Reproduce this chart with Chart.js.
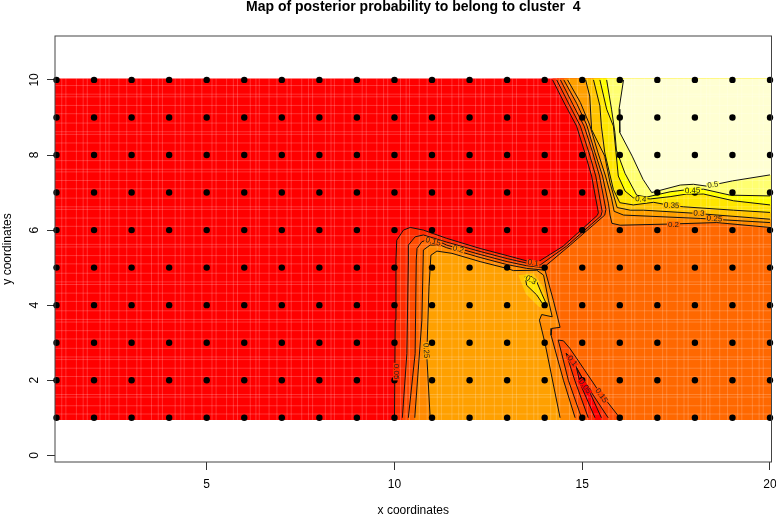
<!DOCTYPE html>
<html>
<head>
<meta charset="utf-8">
<title>Map of posterior probability</title>
<script src="https://cdn.jsdelivr.net/npm/chart.js@4/dist/chart.umd.min.js"></script>
<style>
  html, body { margin: 0; padding: 0; background: #fff; }
  canvas { display: block; }
</style>
</head>
<body>
<canvas id="map" width="776" height="518"></canvas>
<script>
// sampling sites
const siteX = [1, 2, 3, 4, 5, 6, 7, 8, 9, 10, 11, 12, 13, 14, 15, 16, 17, 18, 19, 20];
const siteY = [1, 2, 3, 4, 5, 6, 7, 8, 9, 10];
const xTicks = [5, 10, 15, 20];
const yTicks = [0, 2, 4, 6, 8, 10];

// contours, [x, y] in data units
// these three run from the bottom edge, round the middle block, up to the top edge
const level05 = [[10, 1], [10.02, 3.6], [10.04, 5.2], [10.06, 5.73], [10.24, 6], [10.42, 6.07], [10.77, 6], [11.39, 5.78], [12.28, 5.51], [13, 5.32], [13.52, 5.18], [13.79, 5.13], [14.49, 5.57], [15.4, 6.39], [15.43, 6.46], [15.25, 7.44], [15.07, 8.06], [14.85, 8.77], [14.54, 9.35], [14.21, 10]];
const level10 = [[10.21, 1], [10.33, 2.71], [10.37, 5.2], [10.37, 5.6], [10.55, 5.82], [10.77, 5.87], [11.39, 5.68], [12.28, 5.43], [13, 5.24], [13.52, 5.12], [13.88, 5.07], [14.58, 5.57], [15.5, 6.38], [15.53, 6.5], [15.36, 7.44], [15.18, 8.06], [14.95, 8.77], [14.65, 9.35], [14.32, 10]];
const level15 = [[10.37, 1], [10.55, 2.71], [10.58, 5.2], [10.6, 5.51], [10.73, 5.69], [11, 5.78], [11.39, 5.6], [12.28, 5.35], [13, 5.16], [13.52, 5.05], [13.97, 5], [14.68, 5.6], [15.6, 6.4], [15.63, 6.55], [15.46, 7.44], [15.28, 8.06], [15.05, 8.77], [14.75, 9.35], [14.42, 10]];
// middle block
const level20mid = [[10.54, 1], [10.73, 3.6], [10.77, 5.47], [10.95, 5.6], [11.22, 5.6], [11.39, 5.53], [12.28, 5.27], [13, 5.08], [13.52, 4.98], [14.01, 4.93], [14.23, 4.13], [14.41, 3.41], [14.19, 3.38], [14.17, 3.2], [14.5, 2], [14.81, 1]];
const level25mid = [[10.95, 1], [10.86, 2.67], [10.92, 4.49], [10.97, 5.33], [11.13, 5.44], [11.53, 5.38], [12.28, 5.16], [12.99, 4.98], [13.17, 4.92], [13.79, 4.93], [13.97, 4.8], [14.1, 4.13], [14.2, 3.69], [13.92, 3.75], [13.86, 3.6], [14.01, 2.98], [14.41, 1]];
const level30peak = [[13.48, 4.76], [13.66, 4.76], [13.79, 4.62], [13.92, 4.31], [14.06, 4], [13.97, 4], [13.79, 4.27], [13.52, 4.53], [13.48, 4.76]];
// wedge at the bottom, left foot to right foot
const level15wedge = [[14.98, 1], [14.63, 2], [14.45, 2.72], [14.36, 3.07], [14.5, 3.05], [14.67, 2.85], [15.03, 2.32], [15.42, 1.74], [16, 1]];
const level10wedge = [[15.16, 1], [14.8, 2], [14.57, 2.72], [14.72, 2.58], [15.03, 2], [15.69, 1]];
const level05wedge = [[15.34, 1], [14.94, 1.92], [14.85, 2.32], [15.11, 1.88], [15.51, 1]];
// upper right, top edge down to the junction and out to the right edge
const level20up = [[14.51, 10], [14.85, 9.38], [15.12, 8.8], [15.34, 8.06], [15.54, 7.44], [15.7, 6.7], [15.74, 6.4], [15.79, 6.18], [16.01, 6.13], [17.3, 6.16], [18.58, 6.2], [20, 6.07]];
const level25up = [[14.61, 10], [14.95, 9.4], [15.2, 8.8], [15.42, 8.06], [15.62, 7.44], [15.78, 6.85], [15.85, 6.5], [16.1, 6.4], [18.14, 6.31], [20, 6.2]];
const level30up = [[15.09, 10], [15.2, 9.57], [15.25, 8.68], [15.6, 7.97], [15.74, 7.26], [15.93, 6.6], [16.28, 6.53], [16.63, 6.53], [17.96, 6.45], [20, 6.29]];
const level35up = [[15.3, 10], [15.47, 9.31], [15.51, 8.77], [15.6, 8.06], [15.83, 7.08], [16, 6.73], [16.36, 6.67], [16.9, 6.74], [17.38, 6.65], [17.7, 6.62], [19.03, 6.53], [20, 6.47]];
const level40up = [[15.47, 10], [15.65, 9.22], [15.83, 8.77], [15.9, 8.06], [15.96, 7.44], [16.14, 7.04], [16.36, 6.86], [16.81, 6.83], [17.34, 6.89], [17.78, 6.96], [18.23, 6.96], [19.03, 6.78], [20, 6.67]];
const level45up = [[15.65, 10], [15.78, 9.22], [15.87, 8.6], [15.91, 8.13], [16.14, 7.51], [16.45, 6.93], [16.72, 6.88], [17.34, 7.02], [17.74, 7.07], [18.23, 7.09], [18.94, 6.93], [20, 6.91]];
const level50up = [[16.1, 10], [15.98, 9.22], [16, 8.6], [16.33, 7.97], [16.62, 7.35], [16.85, 7], [17.61, 7.2], [17.96, 7.22], [18.32, 7.17], [19, 7.31], [20, 7.47]];
const peakHalo = [[13.3, 4.8], [13.7, 4.85], [13.95, 4.5], [14.1, 3.95], [13.85, 3.95], [13.5, 4.3]];

const bandColors = { red: '#FF0000', b05: '#FF2C00', b10: '#FF4C00', b15: '#FF6800', b20: '#FF8A00', b25: '#FFA000', b30: '#FFC400', b35: '#FFE600', b40: '#FFFF00', b45: '#FFFF70', b50: '#FFFFD2' };

// contour labels: text, x, y, angle in degrees, colour behind the text
const labelText = ['0.5', '0.45', '0.4', '0.35', '0.3', '0.25', '0.2', '0.15', '0.2', '0.1', '0.3', '0.05', '0.25', '0.1', '0.05', '0.15'];
const labelX = [18.48, 17.94, 16.56, 17.38, 18.11, 18.52, 17.43, 11.03, 11.7, 13.69, 13.63, 10.04, 10.84, 14.73, 15.07, 15.51];
const labelY = [7.2, 7.05, 6.82, 6.65, 6.44, 6.3, 6.15, 5.69, 5.49, 5.12, 4.67, 2.23, 2.79, 2.51, 1.83, 1.59];
const labelAngle = [-8, -2, 5, 3, 3, 3, 0, 15, 15, 10, 30, 90, 88, 52, 55, 55];
const labelBack = ['#FFFF70', '#FFFF00', '#FFE600', '#FFC400', '#FFA000', '#FF8A00', '#FF6800', '#FF6800', '#FF8A00', '#FF4C00', '#FFE600', '#FF2C00', '#FFA000', '#FF2C00', '#FF0000', '#FF4C00'];

// the raster has faint seams between its cells
const seamXOffsets = [0.14, 0.25, 0.53, 0.71, 0.82, 1.16, 1.31, 1.4, 1.66, 1.87];
const seamYOffsets = [0.1, 0.32, 0.55, 0.62, 0.85];

// the raster runs a little past the sites
const edgeLeft = 0.96, edgeRight = 20.04, edgeTop = 10.04, edgeBottom = 0.94;

const toPoints = list => list.map(p => ({ x: p[0], y: p[1] }));

function fillSet(poly, color) {
    return { data: toPoints(poly), showLine: true, fill: 'shape', backgroundColor: color, borderWidth: 0, borderColor: color, pointRadius: 0, tension: 0 };
}
function lineSet(line) {
    return { data: toPoints(line), showLine: true, fill: false, borderColor: '#111', borderWidth: 1, pointRadius: 0, tension: 0 };
}

// from the bottom edge up to the top edge, closing along the right side
function rightOf(line, color) {
    const first = line[0], last = line[line.length - 1];
    return fillSet([[first[0], edgeBottom], ...line, [last[0], edgeTop], [edgeRight, edgeTop], [edgeRight, edgeBottom]], color);
}
// from the top edge out to the right edge, closing in the top right corner
function cornerOf(line, color) {
    const first = line[0], last = line[line.length - 1];
    return fillSet([[first[0], edgeTop], ...line, [edgeRight, last[1]], [edgeRight, edgeTop]], color);
}
// foot to foot on the bottom edge
function archOf(line, color) {
    const first = line[0], last = line[line.length - 1];
    return fillSet([[first[0], edgeBottom], ...line, [last[0], edgeBottom]], color);
}

function seamPoints() {
    const pts = [];
    for (let u = 1; u < 20; u += 2) {
        seamXOffsets.forEach(o => {
            pts.push({ x: u + o, y: edgeBottom }, { x: u + o, y: edgeTop }, { x: NaN, y: NaN });
        });
    }
    for (let v = 1; v < 10; v++) {
        seamYOffsets.forEach(o => {
            pts.push({ x: edgeLeft, y: v + o }, { x: edgeRight, y: v + o }, { x: NaN, y: NaN });
        });
    }
    return pts;
}

const sites = [];
siteY.forEach(y => siteX.forEach(x => sites.push({ x: x, y: y })));

const contourLines = [level05, level10, level15, level20mid, level25mid, level30peak, level15wedge, level10wedge, level05wedge,
    level20up, level25up, level30up, level35up, level40up, level45up, level50up];

// bottom layer first
const layers = [
    fillSet([[edgeLeft, edgeBottom], [edgeLeft, edgeTop], [edgeRight, edgeTop], [edgeRight, edgeBottom]], bandColors.red),
    rightOf(level05, bandColors.b05),
    rightOf(level10, bandColors.b10),
    rightOf(level15, bandColors.b15),
    archOf(level15wedge, bandColors.b10),
    archOf(level10wedge, bandColors.b05),
    archOf(level05wedge, bandColors.red),
    archOf(level20mid, bandColors.b20),
    archOf(level25mid, bandColors.b25),
    fillSet(peakHalo, bandColors.b30),
    fillSet(level30peak, bandColors.b35),
    cornerOf(level20up, bandColors.b20),
    cornerOf(level25up, bandColors.b25),
    cornerOf(level30up, bandColors.b30),
    cornerOf(level35up, bandColors.b35),
    cornerOf(level40up, bandColors.b40),
    cornerOf(level45up, bandColors.b45),
    cornerOf(level50up, bandColors.b50),
    { data: seamPoints(), showLine: true, fill: false, borderColor: 'rgba(255,255,255,0.2)', borderWidth: 1, pointRadius: 0, spanGaps: false, tension: 0 },
    ...contourLines.map(lineSet),
    { data: sites, showLine: false, pointRadius: 3.2, pointBorderWidth: 0, backgroundColor: '#000', clip: false }
];
layers.forEach((set, i) => { set.order = layers.length - i; });

// box round the plot and the numbers sitting on the contours
const plotDecor = {
    id: 'plotDecor',
    afterDatasetsDraw(chart) {
        const ctx = chart.ctx, area = chart.chartArea;
        const sx = chart.scales.x, sy = chart.scales.y;
        ctx.save();
        ctx.strokeStyle = '#444';
        ctx.lineWidth = 1;
        ctx.strokeRect(area.left, area.top, area.right - area.left, area.bottom - area.top);
        ctx.font = '8px "Liberation Sans"';
        ctx.textAlign = 'center';
        ctx.textBaseline = 'middle';
        labelText.forEach((text, i) => {
            const w = ctx.measureText(text).width;
            ctx.save();
            ctx.translate(sx.getPixelForValue(labelX[i]), sy.getPixelForValue(labelY[i]));
            ctx.rotate(labelAngle[i] * Math.PI / 180);
            ctx.fillStyle = labelBack[i];
            ctx.fillRect(-w / 2 - 1, -3, w + 2, 6);
            ctx.fillStyle = '#222';
            ctx.fillText(text, 0, 0);
            ctx.restore();
        });
        ctx.restore();
    }
};

new Chart(document.getElementById('map').getContext('2d'), {
    type: 'scatter',
    data: { datasets: layers },
    plugins: [plotDecor],
    options: {
        responsive: false,
        animation: false,
        layout: { padding: { left: 0, right: 4.5, top: 0, bottom: 0 } },
        plugins: {
            legend: { display: false },
            tooltip: { enabled: false },
            title: {
                display: true,
                text: 'Map of posterior probability to belong to cluster  4',
                color: '#000',
                fullSize: false,
                font: { family: '"Liberation Sans"', size: 14, weight: 'bold', lineHeight: 1 },
                padding: { top: 0, bottom: 22 }
            }
        },
        scales: {
            x: {
                type: 'linear',
                min: edgeLeft,
                max: edgeRight,
                afterBuildTicks: scale => { scale.ticks = xTicks.map(v => ({ value: v })); },
                afterFit: scale => { scale.height = 56; scale.paddingRight = 0; scale.paddingLeft = 0; },
                grid: { drawOnChartArea: false, color: '#333', tickLength: 8 },
                border: { display: false },
                ticks: { color: '#000', padding: 7, maxRotation: 0, autoSkip: false, font: { family: '"Liberation Sans"', size: 12 } },
                title: { display: true, text: 'x coordinates', color: '#000', padding: 0, font: { family: '"Liberation Sans"', size: 12 } }
            },
            y: {
                type: 'linear',
                min: -0.178,
                max: 11.17,
                afterBuildTicks: scale => { scale.ticks = yTicks.map(v => ({ value: v })); },
                afterFit: scale => { scale.width = 55; },
                grid: { drawOnChartArea: false, color: '#333', tickLength: 8 },
                border: { display: false },
                ticks: { color: '#000', padding: 6, minRotation: 90, maxRotation: 90, crossAlign: 'center', autoSkip: false, font: { family: '"Liberation Sans"', size: 12 } },
                title: { display: true, text: 'y coordinates', color: '#000', padding: 0, font: { family: '"Liberation Sans"', size: 12 } }
            }
        }
    }
});
</script>
</body>
</html>
